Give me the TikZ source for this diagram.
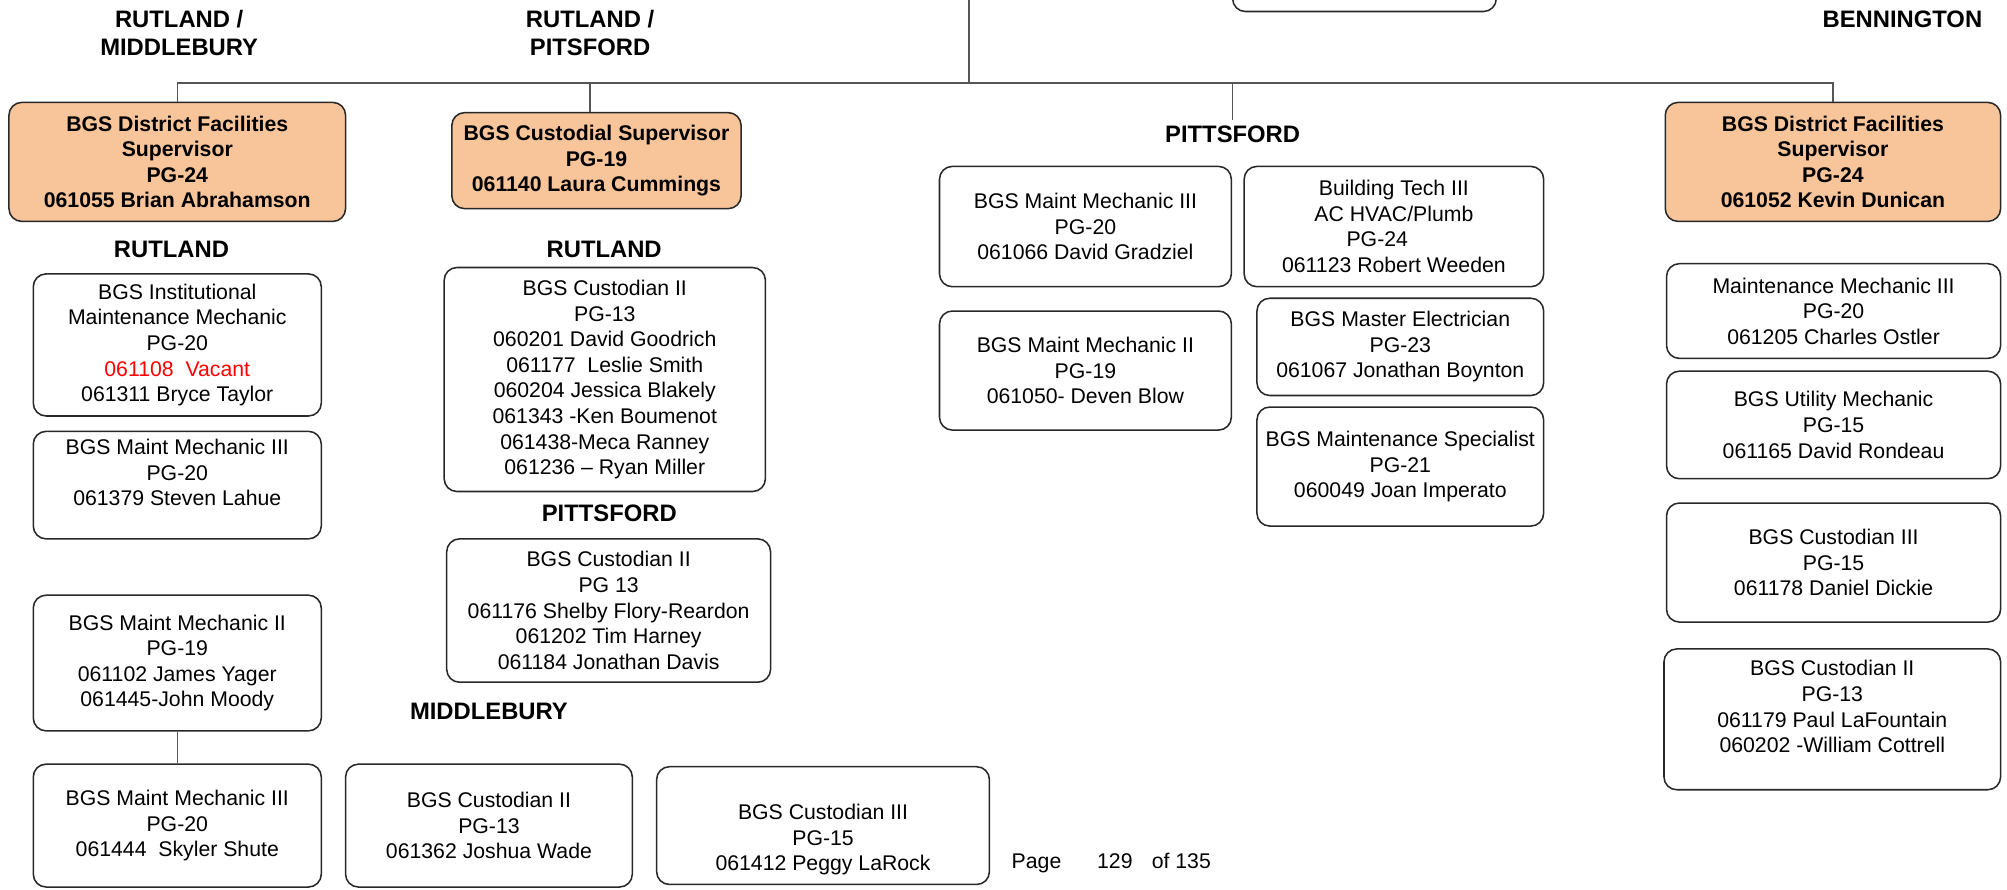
\documentclass[tikz,border=0pt]{standalone}
\usepackage{fontspec}
\setmainfont{Liberation Sans}
\definecolor{supfill}{RGB}{248,196,154}
\definecolor{wire}{RGB}{85,85,85}
\definecolor{edge}{RGB}{40,40,40}
\definecolor{vacant}{RGB}{255,0,0}
\begin{document}
\begin{tikzpicture}[x=0.5pt,y=-0.5pt,
  box/.style={draw=edge,line width=0.6pt,rounded corners=5pt,fill=white,
    align=center,inner sep=0pt,font=\fontsize{8.3}{10}\selectfont},
  supbox/.style={box,fill=supfill,font=\fontsize{8.3}{10}\selectfont\bfseries},
  region/.style={align=center,inner sep=2pt,font=\fontsize{9.3}{11}\selectfont\bfseries},
  conn/.style={draw=wire,line width=0.55pt}]
\clip (0,0) rectangle (1568,695);

% supervisors
\node[supbox,minimum width=131.5pt,minimum height=46.5pt] (supA) at (138.5,126.5)
  {BGS District Facilities\\Supervisor\\PG-24\\061055 Brian Abrahamson};
\node[supbox,minimum width=113pt,minimum height=37.5pt] (supB) at (466,125.5)
  {BGS Custodial Supervisor\\PG-19\\061140 Laura Cummings};
\node[supbox,minimum width=131pt,minimum height=46.5pt] (supC) at (1432,126.5)
  {BGS District Facilities\\Supervisor\\PG-24\\061052 Kevin Dunican};

% box running off the top edge
\node[box,minimum width=103pt,minimum height=34.5pt] (upper) at (1066,-25.5) {};

% region headings
\node[region] (hRM) at (140,26) {RUTLAND /\\MIDDLEBURY};
\node[region] (hRP) at (461,26) {RUTLAND /\\PITSFORD};
\node[region,anchor=east] (hBen) at (1553,15) {BENNINGTON};
\node[region] (hR1) at (134,195) {RUTLAND};
\node[region] (hR2) at (472,195) {RUTLAND};
\node[region] (hP1) at (476,401) {PITTSFORD};
\node[region] (hM) at (382,556) {MIDDLEBURY};
\node[region] (hP2) at (963,105) {PITTSFORD};

% Rutland / Middlebury staff
\node[box,minimum width=112.5pt,minimum height=55.5pt] (inst) at (138.5,269.5)
  {BGS Institutional\\Maintenance Mechanic\\PG-20\\\textcolor{vacant}{061108~ Vacant}\\061311 Bryce Taylor};
\node[box,minimum width=112.5pt,minimum height=42pt] (lahue) at (138.5,379)
  {BGS Maint Mechanic III\\PG-20\\061379 Steven Lahue\\\mbox{}};
\node[box,minimum width=112.5pt,minimum height=53pt] (yager) at (138.5,518)
  {BGS Maint Mechanic II\\PG-19\\061102 James Yager\\061445-John Moody};
\node[box,minimum width=112.5pt,minimum height=48pt] (shute) at (138.5,645)
  {BGS Maint Mechanic III\\PG-20\\061444~ Skyler Shute};

% Rutland / Pittsford custodial staff
\node[box,minimum width=125.5pt,minimum height=87.5pt] (rcust) at (472.5,296.5)
  {BGS Custodian II\\PG-13\\060201 David Goodrich\\061177~ Leslie Smith\\060204 Jessica Blakely\\061343 -Ken Boumenot\\061438-Meca Ranney\\061236 – Ryan Miller};
\node[box,minimum width=126.5pt,minimum height=56pt] (pcust) at (475.5,477)
  {BGS Custodian II\\PG 13\\061176 Shelby Flory-Reardon\\061202 Tim Harney\\061184 Jonathan Davis};
\node[box,minimum width=112pt,minimum height=48pt] (wade) at (382,645)
  {BGS Custodian II\\PG-13\\061362 Joshua Wade};
\node[box,minimum width=130pt,minimum height=46pt] (larock) at (643,645)
  {\strut\\BGS Custodian III\\PG-15\\061412 Peggy LaRock};

% Pittsford staff
\node[box,minimum width=114pt,minimum height=47pt] (gradziel) at (848,177)
  {BGS Maint Mechanic III\\PG-20\\061066 David Gradziel};
\node[box,minimum width=117pt,minimum height=47pt] (weeden) at (1089,177)
  {Building Tech III\\AC HVAC/Plumb\\\makebox[37pt][l]{PG-24}\\061123 Robert Weeden};
\node[box,minimum width=114pt,minimum height=46.5pt] (blow) at (848,289.5)
  {BGS Maint Mechanic II\\PG-19\\061050- Deven Blow};
\node[box,minimum width=112pt,minimum height=38pt] (boynton) at (1094,271)
  {BGS Master Electrician\\PG-23\\061067 Jonathan Boynton};
\node[box,minimum width=112pt,minimum height=46.5pt] (imperato) at (1094,364.5)
  {BGS Maintenance Specialist\\PG-21\\060049 Joan Imperato};

% Bennington staff
\node[box,minimum width=130.5pt,minimum height=37pt] (ostler) at (1432.5,243)
  {Maintenance Mechanic III\\PG-20\\061205 Charles Ostler};
\node[box,minimum width=130.5pt,minimum height=42pt] (rondeau) at (1432.5,332)
  {BGS Utility Mechanic\\PG-15\\061165 David Rondeau};
\node[box,minimum width=130.5pt,minimum height=46.5pt] (dickie) at (1432.5,439.5)
  {BGS Custodian III\\PG-15\\061178 Daniel Dickie};
\node[box,minimum width=131.5pt,minimum height=55pt] (cottrell) at (1431.5,562)
  {BGS Custodian II\\PG-13\\061179 Paul LaFountain\\060202 -William Cottrell\\\mbox{}};

% page footer
\node[anchor=west,inner sep=0pt,font=\fontsize{8.3}{10}\selectfont] (pageno) at (790,674)
  {Page\hspace{14pt}129\hspace{7.5pt}of 135};

% connectors
\coordinate (feed) at (757,0);
\coordinate (bus) at (757,65);
\draw[conn] (feed) -- (bus);
\draw[conn] (supA.north) |- (bus) -| (supC.north);
\draw[conn] (bus) -| ([xshift=-2.5pt]supB.north);
\draw[conn] (bus) -| (hP2.north);
\draw[conn] (yager.south) -- (shute.north);
\end{tikzpicture}
\end{document}
